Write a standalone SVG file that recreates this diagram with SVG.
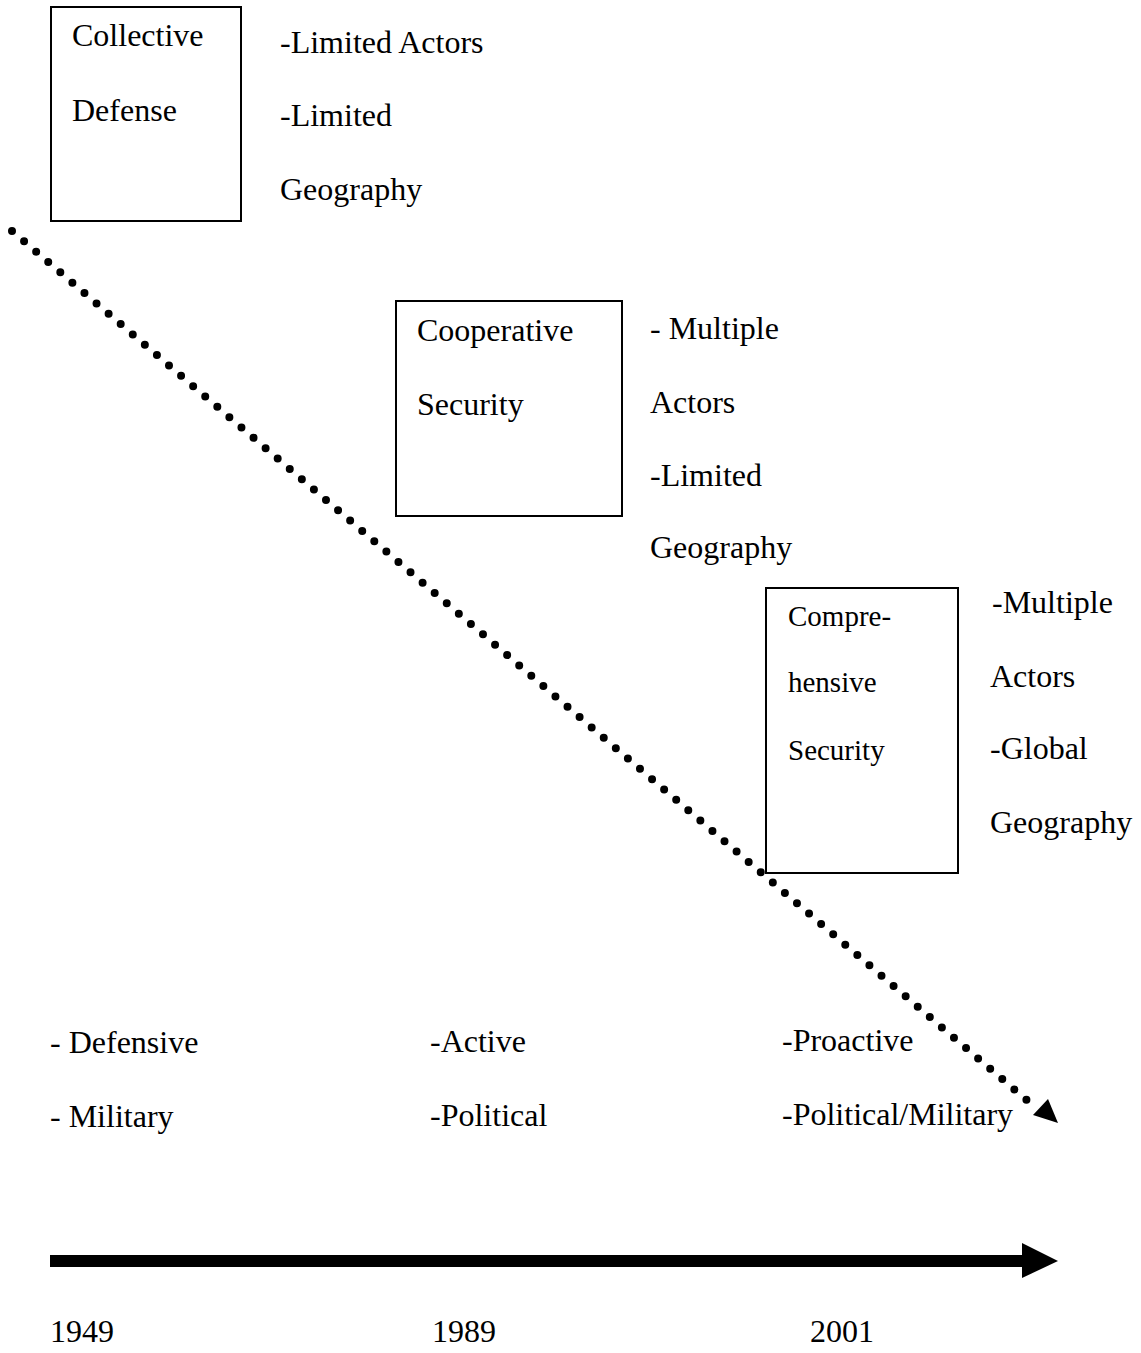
<svg xmlns="http://www.w3.org/2000/svg" width="1141" height="1353" viewBox="0 0 1141 1353">
<style>
text{font-family:"Liberation Serif","Times New Roman",serif;font-size:32px;fill:#000}
.sm{font-size:29px}
.box{fill:#fff;stroke:#000;stroke-width:2}
</style>
<rect width="1141" height="1353" fill="#fff"/>
<g id="connectors">
<line x1="12" y1="231" x2="1036" y2="1108" stroke="#000" stroke-width="8" stroke-linecap="round" stroke-dasharray="0 15.9"/>
<polygon points="1033,1115 1048,1099 1058,1123" fill="#000"/>
<rect x="50" y="1255" width="975" height="12" fill="#000"/>
<polygon points="1022,1243 1058,1261 1022,1278" fill="#000"/>
</g>
<g id="collective">
<rect class="box" x="51" y="7" width="190" height="214"/>
<text x="72" y="46">Collective</text>
<text x="72" y="121">Defense</text>
</g>
<g id="collective-notes">
<text x="280" y="53">-Limited Actors</text>
<text x="280" y="126">-Limited</text>
<text x="280" y="200">Geography</text>
</g>
<g id="cooperative">
<rect class="box" x="396" y="301" width="226" height="215"/>
<text x="417" y="341">Cooperative</text>
<text x="417" y="415">Security</text>
</g>
<g id="cooperative-notes">
<text x="650" y="339">- Multiple</text>
<text x="650" y="413">Actors</text>
<text x="650" y="486">-Limited</text>
<text x="650" y="558">Geography</text>
</g>
<g id="comprehensive">
<rect class="box" x="766" y="588" width="192" height="285"/>
<text class="sm" x="788" y="626">Compre-</text>
<text class="sm" x="788" y="692">hensive</text>
<text class="sm" x="788" y="760">Security</text>
</g>
<g id="comprehensive-notes">
<text x="992" y="613">-Multiple</text>
<text x="990" y="687">Actors</text>
<text x="990" y="759">-Global</text>
<text x="990" y="833">Geography</text>
</g>
<g id="traits">
<text x="50" y="1053">- Defensive</text>
<text x="50" y="1127">- Military</text>
<text x="430" y="1052">-Active</text>
<text x="430" y="1126">-Political</text>
<text x="782" y="1051">-Proactive</text>
<text x="782" y="1125">-Political/Military</text>
</g>
<g id="years">
<text x="50" y="1342">1949</text>
<text x="432" y="1342">1989</text>
<text x="810" y="1342">2001</text>
</g>
</svg>
